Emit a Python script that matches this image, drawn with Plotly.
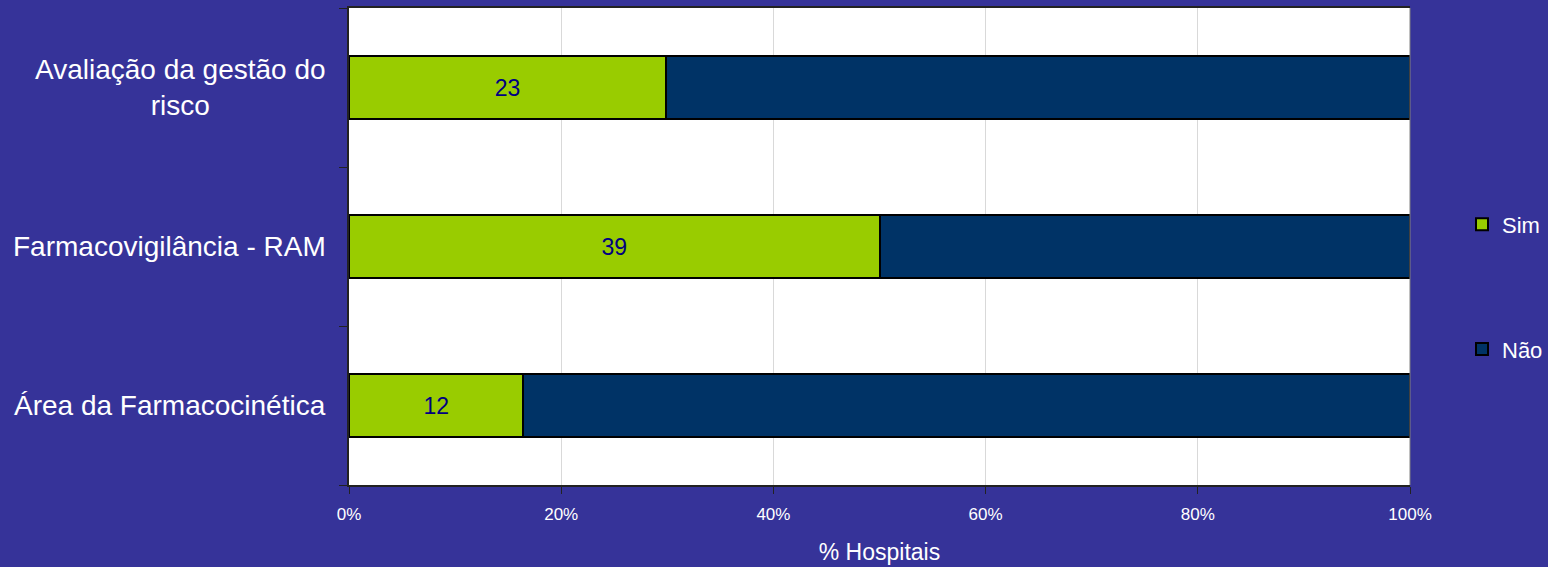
import plotly.graph_objects as go

categories = ["Área da Farmacocinética", "Farmacovigilância - RAM", "Avaliação da gestão do risco"]
cat_labels = ["Área da Farmacocinética", "Farmacovigilância - RAM", "Avaliação da gestão do<br>risco"]
sim_values = [12, 39, 23]
nao_values = [61, 39, 54]
x_ticks = [0, 20, 40, 60, 80, 100]
x_tick_text = ["0%", "20%", "40%", "60%", "80%", "100%"]

BG = "#363399"
FONT = "Liberation Sans, Arial, sans-serif"

fig = go.Figure()
fig.add_trace(go.Bar(
    y=categories, x=sim_values, name="Sim", orientation="h",
    marker=dict(color="#99cc00", line=dict(color="#000000", width=2)),
    text=[str(v) for v in sim_values], textposition="inside",
    insidetextanchor="middle", textangle=0,
    textfont=dict(family=FONT, size=23, color="#000080"),
    width=0.4, legendgroup="a",
))
fig.add_trace(go.Bar(
    y=categories, x=nao_values, name="Não", orientation="h",
    marker=dict(color="#003366", line=dict(color="#000000", width=2)),
    width=0.4, legendgroup="b", hoverinfo="x+y",
))

for c, lab in zip(categories, cat_labels):
    fig.add_annotation(
        x=0, xref="paper", y=c, yref="y", text=lab, showarrow=False,
        xanchor="right", yanchor="middle", align="center", xshift=-21,
        font=dict(family=FONT, size=28, color="white"),
    )

fig.add_shape(type="line", xref="paper", yref="paper", x0=1, x1=1, y0=0, y1=1,
              line=dict(color="#808080", width=1))

fig.update_layout(
    barmode="stack", barnorm="percent",
    width=1548, height=567,
    paper_bgcolor=BG, plot_bgcolor="white",
    margin=dict(l=349, r=138, t=8, b=82, autoexpand=False),
    font=dict(family=FONT, color="white"),
    showlegend=True,
    legend=dict(x=1.049, y=0.59, xanchor="left", yanchor="top",
                traceorder="grouped", tracegroupgap=93,
                font=dict(family=FONT, size=22, color="white"),
                bgcolor="rgba(0,0,0,0)", itemwidth=30),
    xaxis=dict(range=[0, 100], tickvals=x_ticks, ticktext=x_tick_text,
               showgrid=True, gridcolor="#d9d9d9", gridwidth=1,
               showline=True, linecolor="#222222", linewidth=2, mirror=True,
               ticks="outside", ticklen=7, tickcolor="#222222",
               ticklabelstandoff=6,
               tickfont=dict(family=FONT, size=17, color="white"),
               title=dict(text="% Hospitais", font=dict(family=FONT, size=23, color="white"), standoff=20),
               zeroline=False, fixedrange=True),
    yaxis=dict(categoryorder="array", categoryarray=categories,
               range=[-0.5, 2.5], showticklabels=False,
               showline=True, linecolor="#222222", linewidth=2,
               ticks="outside", tickson="boundaries", ticklen=8, tickcolor="#222222",
               showgrid=False, fixedrange=True),
)

fig.write_html("out.html", config={"displayModeBar": False},
               post_script="document.body.style.margin='0px';document.body.style.background='#363399';")
